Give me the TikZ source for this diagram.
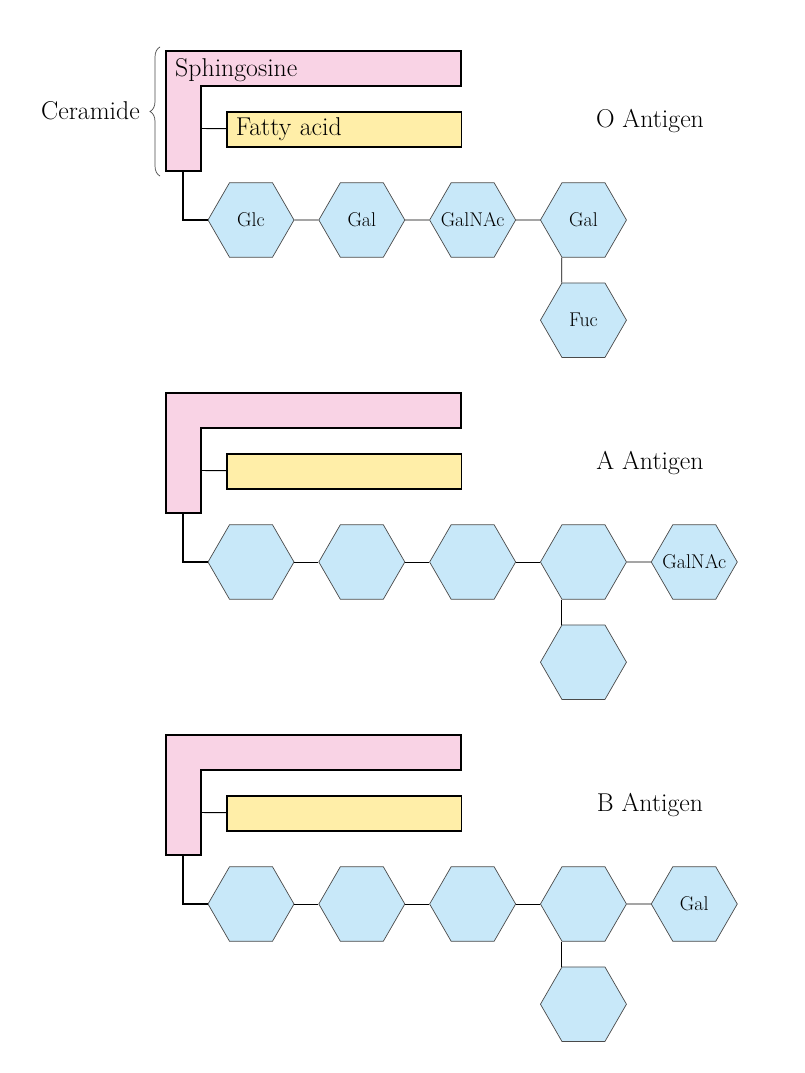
\documentclass[tikz,border=0pt]{standalone}
\usepackage{tikz}
\usetikzlibrary{positioning,shapes.geometric,decorations.pathreplacing}
\definecolor{sphpink}{HTML}{F9D3E5}
\definecolor{fatyellow}{HTML}{FFEEA8}
\definecolor{sugblue}{HTML}{C8E8F9}
\definecolor{hexgray}{HTML}{4A4A4A}

\begin{document}
\begin{tikzpicture}[
    x=0.03cm, y=-0.03cm,
    node distance=0.72cm,
    sugar/.style={regular polygon, regular polygon sides=6, draw=hexgray, line width=0.6pt, fill=sugblue, minimum size=2.58cm, inner sep=0pt, font=\fontsize{17}{20}\selectfont},
    fatty/.style={rectangle, draw, line width=1.5pt, fill=fatyellow, anchor=north west, text width=6.5cm, align=left, inner xsep=0.27cm, inner ysep=0pt, minimum height=1.05cm, font=\fontsize{22}{26}\selectfont},
    lipid/.style={draw, line width=1.5pt, fill=sphpink},
    title/.style={font=\fontsize{22}{26}\selectfont},
    bond/.style={line width=0.8pt},
    stem/.style={line width=1.5pt},
]
\useasboundingbox (0,0) rectangle (804,1073);

% O antigen
\draw[lipid] (166,51) -| (461,86) -| (201,171) -| (166,51) -- cycle;
\node[title, anchor=west, inner sep=0pt] (sphO) at (175,70) {Sphingosine};
\node[fatty] (fatO) at (226,111) {Fatty acid};
\coordinate (sphOfa) at (201,128.5);
\coordinate (sphOst) at (183,171);

\node[sugar] (glcO) at (251,220) {Glc};
\node[sugar, right=of glcO] (galO) {Gal};
\node[sugar, right=of galO] (galnacO) {\makebox[0pt]{GalNAc}};
\node[sugar, right=of galnacO] (galbO) {Gal};
\node[sugar, below=0.75cm of galbO] (fucO) {Fuc};

\draw[bond] (sphOfa) -- (fatO);
\draw[stem] (sphOst) |- (glcO);
\draw[bond] (glcO) -- (galO);
\draw[bond] (galO) -- (galnacO);
\draw[bond] (galnacO) -- (galbO);
\draw[bond] (galbO.240) -- (fucO.120);

\node[title] (titleO) at (650,121) {O Antigen};

% Ceramide brace
\node[title, anchor=east, inner sep=0pt] (ceramide) at (140,111) {Ceramide};
\coordinate (brbot) at (160,176);
\coordinate (brtop) at (160,47);
\draw[decorate, decoration={brace, amplitude=0.3cm}, hexgray, line width=0.6pt] (brbot) -- (brtop);

% A antigen
\begin{scope}[shift={(0,342)}]
\draw[lipid] (166,51) -| (461,86) -| (201,171) -| (166,51) -- cycle;
\node[fatty] (fatA) at (226,111) {};
\coordinate (sphAfa) at (201,128.5);
\coordinate (sphAst) at (183,171);

\node[sugar] (hexA1) at (251,220) {};
\node[sugar, right=of hexA1] (hexA2) {};
\node[sugar, right=of hexA2] (hexA3) {};
\node[sugar, right=of hexA3] (hexA4) {};
\node[sugar, right=of hexA4] (hexA5) {\makebox[0pt]{GalNAc}};
\node[sugar, below=0.75cm of hexA4] (hexA6) {};

\draw[bond] (sphAfa) -- (fatA);
\draw[stem] (sphAst) |- (hexA1);
\draw[bond] (hexA1) -- (hexA2);
\draw[bond] (hexA2) -- (hexA3);
\draw[bond] (hexA3) -- (hexA4);
\draw[bond] (hexA4) -- (hexA5);
\draw[bond] (hexA4.240) -- (hexA6.120);

\node[title] (titleA) at (650,121) {A Antigen};
\end{scope}

% B antigen
\begin{scope}[shift={(0,684)}]
\draw[lipid] (166,51) -| (461,86) -| (201,171) -| (166,51) -- cycle;
\node[fatty] (fatB) at (226,111) {};
\coordinate (sphBfa) at (201,128.5);
\coordinate (sphBst) at (183,171);

\node[sugar] (hexB1) at (251,220) {};
\node[sugar, right=of hexB1] (hexB2) {};
\node[sugar, right=of hexB2] (hexB3) {};
\node[sugar, right=of hexB3] (hexB4) {};
\node[sugar, right=of hexB4] (hexB5) {Gal};
\node[sugar, below=0.75cm of hexB4] (hexB6) {};

\draw[bond] (sphBfa) -- (fatB);
\draw[stem] (sphBst) |- (hexB1);
\draw[bond] (hexB1) -- (hexB2);
\draw[bond] (hexB2) -- (hexB3);
\draw[bond] (hexB3) -- (hexB4);
\draw[bond] (hexB4) -- (hexB5);
\draw[bond] (hexB4.240) -- (hexB6.120);

\node[title] (titleB) at (650,121) {B Antigen};
\end{scope}

\end{tikzpicture}
\end{document}
